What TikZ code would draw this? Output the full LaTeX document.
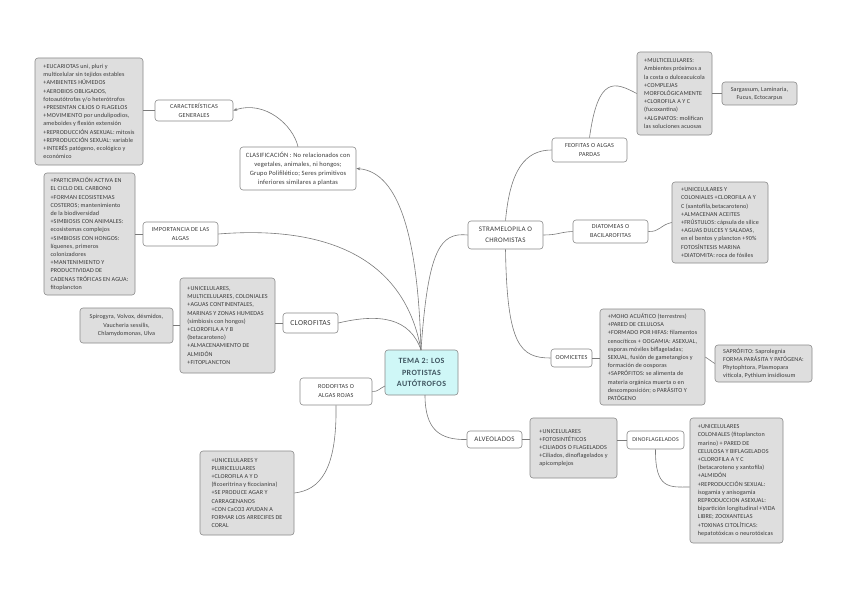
\documentclass[tikz,border=0pt]{standalone}
\usepackage{fontspec}
\setmainfont{Carlito}
\usetikzlibrary{arrows.meta}
\definecolor{ln}{HTML}{7A7A7A}
\definecolor{bd}{HTML}{8A8A8A}
\definecolor{dfill}{HTML}{DEDEDE}
\definecolor{tx}{HTML}{3A3A3A}
\definecolor{cfill}{HTML}{CFF7F7}
\definecolor{ctx}{HTML}{3F5560}
\tikzset{
  desc/.style={draw=bd, fill=dfill, rounded corners=3pt, text=tx, align=left,
    font=\fontsize{6.1}{8.2}\selectfont\addfontfeatures{LetterSpace=2}, inner sep=1pt, line width=0.6pt},
  topic/.style={draw=bd, fill=white, rounded corners=3pt, text=tx, align=center,
    font=\fontsize{6.2}{9}\selectfont\addfontfeatures{LetterSpace=3}, inner sep=1pt, line width=0.6pt},
  link/.style={draw=ln, line width=0.6pt},
  arr/.style={link, -{Stealth[length=4pt,width=3pt]}}
}
\begin{document}
\begin{tikzpicture}[x=1pt,y=-1pt]
\useasboundingbox[fill=white] (0,0) rectangle (848,599);

% centre
\node[draw=bd, fill=cfill, rounded corners=3pt, text=ctx, align=center,
  font=\fontsize{8}{11.5}\selectfont\bfseries\addfontfeatures{LetterSpace=5}, line width=0.6pt,
  minimum width=73pt, minimum height=45pt, inner sep=1pt] (center) at (421.5,372.5)
  {TEMA 2: LOS\\PROTISTAS\\AUTÓTROFOS};

% left side
\node[desc, minimum width=108pt, minimum height=107pt] (gendesc) at (89,111.5)
{+EUCARIOTAS uni, pluri y\\multicelular sin tejidos estables\\+AMBIENTES HÚMEDOS\\+AEROBIOS OBLIGADOS,\\fotoautótrofas y/o heterótrofos\\+PRESENTAN CILIOS O FLAGELOS\\+MOVIMIENTO por undulipodios,\\ameboides y flexión extensión\\+REPRODUCCIÓN ASEXUAL: mitosis\\+REPRODUCCIÓN SEXUAL: variable\\+INTERÉS patógeno, ecológico y\\económico};
\node[topic, minimum width=78pt, minimum height=21pt] (gen) at (194,110.5)
{CARACTERÍSTICAS\\GENERALES};
\node[topic, font=\fontsize{6.5}{9}\selectfont\addfontfeatures{LetterSpace=3}, minimum width=116pt, minimum height=43pt] (clas) at (298,168.5)
{CLASIFICACIÓN : No relacionados con\\vegetales, animales, ni hongos;\\Grupo Polifilético; Seres primitivos\\inferiores similares a plantas};

\node[desc, minimum width=91pt, minimum height=122pt] (impdesc) at (89.5,234)
{+PARTICIPACIÓN ACTIVA EN\\EL CICLO DEL CARBONO\\+FORMAN ECOSISTEMAS\\COSTEROS; mantenimiento\\de la biodiversidad\\+SIMBIOSIS CON ANIMALES:\\ecosistemas complejos\\+SIMBIOSIS CON HONGOS:\\líquenes, primeros\\colonizadores\\+MANTENIMIENTO Y\\PRODUCTIVIDAD DE\\CADENAS TRÓFICAS EN AGUA:\\fitoplancton};
\node[topic, minimum width=75pt, minimum height=24pt] (imp) at (180.5,234)
{IMPORTANCIA DE LAS\\ALGAS};

\node[desc, align=center, minimum width=93pt, minimum height=35pt] (spir) at (126.5,325.5)
{Spirogyra, Volvox, désmidos,\\Vaucheria sessilis,\\Chlamydomonas, Ulva};
\node[desc, minimum width=95pt, minimum height=95pt] (clordesc) at (227.5,325.5)
{+UNICELULARES,\\MULTICELULARES, COLONIALES\\+AGUAS CONTINENTALES,\\MARINAS Y ZONAS HUMEDAS\\(simbiosis con hongos)\\+CLOROFILA A Y B\\(betacaroteno)\\+ALMACENAMIENTO DE\\ALMIDÓN\\+FITOPLANCTON};
\node[topic, font=\fontsize{7.6}{10}\selectfont\addfontfeatures{LetterSpace=4}, minimum width=55pt, minimum height=20pt] (clor) at (310.5,323)
{CLOROFITAS};

\node[topic, minimum width=72pt, minimum height=27pt] (rodo) at (336,391.5)
{RODOFITAS O\\ALGAS ROJAS};
\node[desc, minimum width=94pt, minimum height=84pt] (rododesc) at (247,493)
{+UNICELULARES Y\\PLURICELULARES\\+CLOROFILA A Y D\\(ficoeritrina y ficocianina)\\+SE PRODUCE AGAR Y\\CARRAGENANOS\\+CON CaCO3 AYUDAN A\\FORMAR LOS ARRECIFES DE\\CORAL};

% right side
\node[topic, font=\fontsize{7}{10.5}\selectfont\addfontfeatures{LetterSpace=4}, minimum width=75pt, minimum height=28pt] (stram) at (505.5,235)
{STRAMELOPILA O\\CHROMISTAS};
\node[topic, minimum width=75pt, minimum height=24pt] (feo) at (589.5,150)
{FEOFITAS O ALGAS\\PARDAS};
\node[desc, minimum width=75pt, minimum height=83pt] (feodesc) at (674.5,93.5)
{+MULTICELULARES:\\Ambientes próximos a\\la costa o dulceacuícola\\+COMPLEJAS\\MORFOLÓGICAMENTE\\+CLOROFILA A Y C\\(fucoxantina)\\+ALGINATOS: molifican\\las soluciones acuosas};
\node[desc, align=center, minimum width=75pt, minimum height=23pt] (sarg) at (759.5,93.5)
{Sargassum, Laminaria,\\Fucus, Ectocarpus};

\node[topic, minimum width=75pt, minimum height=23pt] (diat) at (610.5,231.5)
{DIATOMEAS O\\BACILAROFITAS};
\node[desc, minimum width=96pt, minimum height=81pt] (diatdesc) at (720,222.5)
{+UNICELULARES Y\\COLONIALES +CLOROFILA A Y\\C (xantofila,betacaroteno)\\+ALMACENAN ACEITES\\+FRÚSTULOS: cápsula de sílice\\+AGUAS DULCES Y SALADAS,\\en el bentos y plancton +90\%\\FOTOSÍNTESIS MARINA\\+DIATOMITA: roca de fósiles};

\node[topic, minimum width=41pt, minimum height=18pt] (oom) at (571.5,358)
{OOMICETES};
\node[desc, minimum width=105pt, minimum height=96pt] (oomdesc) at (652.5,357)
{+MOHO ACUÁTICO (terrestres)\\+PARED DE CELULOSA\\+FORMADO POR HIFAS: filamentos\\cenocíticos + OOGAMIA: ASEXUAL,\\esporas móviles biflageladas;\\SEXUAL, fusión de gametangios y\\formación de oosporas\\+SAPRÓFITOS: se alimenta de\\materia orgánica muerta o en\\descomposición; o PARÁSITO Y\\PATÓGENO};
\node[desc, minimum width=97pt, minimum height=37pt] (sapr) at (763.5,363.5)
{SAPRÓFITO: Saprolegnia\\FORMA PARÁSITA Y PATÓGENA:\\Phytophtora, Plasmopara\\viticola, Pythium insidiosum};

\node[topic, font=\fontsize{7}{9}\selectfont\addfontfeatures{LetterSpace=4}, minimum width=55pt, minimum height=17pt] (alv) at (494.5,439.5)
{ALVEOLADOS};
\node[desc, minimum width=87pt, minimum height=60pt] (alvdesc) at (573.5,448)
{+UNICELULARES\\+FOTOSINTÉTICOS\\+CILIADOS O FLAGELADOS\\+Ciliados, dinoflagelados y\\apicomplejos};
\node[topic, font=\fontsize{5.9}{8}\selectfont\addfontfeatures{LetterSpace=3}, minimum width=57pt, minimum height=18pt] (dino) at (655.5,440)
{DINOFLAGELADOS};
\node[desc, minimum width=93pt, minimum height=125pt] (dinodesc) at (736.5,480.5)
{+UNICELULARES\\COLONIALES (fitoplancton\\marino) + PARED DE\\CELULOSA Y BIFLAGELADOS\\+CLOROFILA A Y C\\(betacaroteno y xantofila)\\+ALMIDÓN\\+REPRODUCCIÓN SEXUAL:\\isogamia y anisogamia\\REPRODUCCION ASEXUAL:\\bipartición longitudinal +VIDA\\LIBRE; ZOOXANTELAS\\+TOXINAS CITOLÍTICAS:\\hepatotóxicas o neurotóxicas};

% coordinates on the centre
\coordinate (ctop) at (421,350);
\coordinate (cbot) at (425,395);
\coordinate (cleft) at (385,386);

% connectors
\path[link] (gendesc.east |- gen.west) -- (gen.west);
\path[arr] (clas.north) .. controls (293,125) and (265,100) .. (gen.east);
\path[arr] (ctop) .. controls (418,240) and (400,172) .. (clas.east);
\path[link] (ctop) .. controls (405,260) and (330,225) .. (imp.east);
\path[link] (imp.west) -- (impdesc.east |- imp.west);
\path[link] (ctop) .. controls (410,318) and (380,313) .. (clor.east);
\path[link] (clor.west) -- (clordesc.east |- clor.west);
\path[link] (clordesc.west) -- (spir.east);
\path[link] (cleft) .. controls (380,388) and (378,392) .. (rodo.east);
\path[link] (rodo.south) .. controls (337,470) and (320,490) .. (rododesc.east);
\path[link] (ctop) .. controls (428,250) and (440,232) .. (stram.west);
\path[link] (stram.north) .. controls (510,170) and (525,150) .. (feo.west);
\path[link] (feo.north) .. controls (598,75) and (615,82) .. (feodesc.west);
\path[link] (feodesc.east) -- (sarg.west);
\path[link] (stram.east) .. controls (558,235) and (560,232) .. (diat.west);
\path[link] (diat.east) .. controls (660,232) and (660,225) .. (diatdesc.west);
\path[link] (stram.south) .. controls (507,345) and (520,358) .. (oom.west);
\path[link] (oom.east) -- (oomdesc.west |- oom.east);
\path[link] (oomdesc.east) -- (sapr.west);
\path[link] (cbot) .. controls (425,430) and (440,440) .. (alv.west);
\path[link] (alv.east) -- (alvdesc.west |- alv.east);
\path[link] (alvdesc.east |- dino.west) -- (dino.west);
\path[link] (dino.south) .. controls (655,490) and (670,487) .. (dinodesc.west |- 0,487);
\end{tikzpicture}
\end{document}
